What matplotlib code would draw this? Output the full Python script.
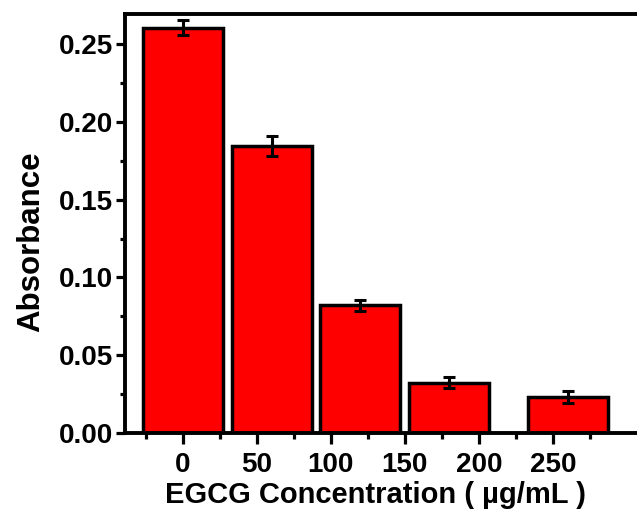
import matplotlib
matplotlib.use("Agg")
import matplotlib.pyplot as plt
from matplotlib.ticker import MultipleLocator

plt.rcParams['font.family'] = ['Liberation Sans', 'DejaVu Sans']
plt.rcParams['font.weight'] = 'bold'

# Data
bar_x = [0, 60, 120, 180, 260]
absorbance = [0.2605, 0.1846, 0.0821, 0.0323, 0.0233]
errors = [0.0050, 0.0065, 0.0035, 0.0034, 0.0039]
xticks = [0, 50, 100, 150, 200, 250]
yticks = [0.00, 0.05, 0.10, 0.15, 0.20, 0.25]

fig = plt.figure(figsize=(6.37, 5.14), dpi=100)
ax = fig.add_axes([125/637, 81/514, 1.0075 - 125/637, 419/514])

ax.bar(bar_x, absorbance, width=54, color='#ff0000', edgecolor='black',
       linewidth=2.5, zorder=2)
ax.errorbar(bar_x, absorbance, yerr=errors, fmt='none', ecolor='black',
            elinewidth=2.2, capsize=4.5, capthick=2.2, zorder=3)

ax.set_xlim(-39, 310)
ax.set_ylim(0, 0.2693)
ax.set_xticks(xticks)
ax.set_xticklabels([str(t) for t in xticks])
ax.set_yticks(yticks)
ax.set_yticklabels([f"{t:.2f}" for t in yticks])
ax.set_xticks([-25, 25, 75, 125, 175, 225, 275], minor=True)
ax.yaxis.set_minor_locator(MultipleLocator(0.025))

for s in ax.spines.values():
    s.set_linewidth(2.8)

ax.tick_params(axis='both', which='major', direction='out', width=2.3,
               labelsize=20)
ax.tick_params(axis='x', which='major', length=8, pad=6)
ax.tick_params(axis='y', which='major', length=6.5, pad=2)
ax.tick_params(axis='x', which='minor', direction='out', length=4, width=2.3)
ax.tick_params(axis='y', which='minor', direction='out', length=3.5, width=2.3)
for lbl in ax.get_xticklabels() + ax.get_yticklabels():
    lbl.set_fontweight('bold')

ax.set_xlabel('EGCG Concentration ( µg/mL )', fontsize=21, fontweight='bold')
ax.xaxis.set_label_coords(0.484, -0.115)
ax.set_ylabel('Absorbance', fontsize=22.5, fontweight='bold')
ax.yaxis.set_label_coords(-0.153, 0.456)

fig.savefig('out.png', dpi=100)
